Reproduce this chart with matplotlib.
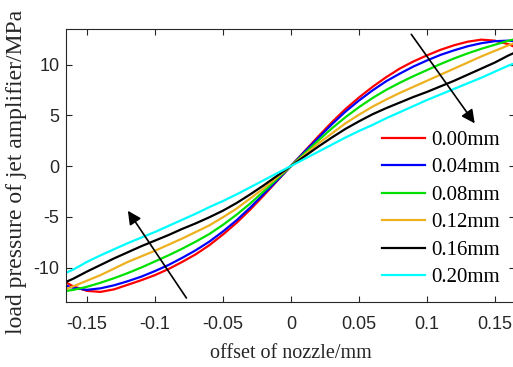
import numpy as np
import matplotlib
matplotlib.use("Agg")
import matplotlib.pyplot as plt

# offset of nozzle (mm)
offset = [-0.165, -0.16, -0.15, -0.14, -0.13, -0.12, -0.11, -0.10, -0.09, -0.08,
          -0.07, -0.06, -0.05, -0.04, -0.03, -0.02, -0.01, 0.0,
          0.01, 0.02, 0.03, 0.04, 0.05, 0.06, 0.07, 0.08, 0.09, 0.10,
          0.11, 0.12, 0.13, 0.14, 0.15, 0.16, 0.165]

# load pressure (MPa) for each gap
p_000 = [-11.5, -11.85, -12.3, -12.4, -12.15, -11.7, -11.25, -10.75, -10.15, -9.45,
         -8.7, -7.8, -6.75, -5.6, -4.3, -2.9, -1.45, 0.0,
         1.45, 2.9, 4.3, 5.6, 6.75, 7.8, 8.75, 9.6, 10.3, 10.9,
         11.45, 11.9, 12.25, 12.45, 12.35, 12.0, 11.7]
p_004 = [-11.8, -12.0, -12.2, -12.05, -11.75, -11.35, -10.9, -10.35, -9.75, -9.05,
         -8.3, -7.45, -6.45, -5.35, -4.1, -2.75, -1.4, 0.0,
         1.4, 2.75, 4.1, 5.35, 6.45, 7.45, 8.35, 9.1, 9.8, 10.4,
         10.95, 11.4, 11.8, 12.1, 12.3, 12.35, 12.3]
p_008 = [-12.3, -12.2, -11.9, -11.5, -11.05, -10.55, -10.0, -9.4, -8.8, -8.15,
         -7.45, -6.7, -5.8, -4.8, -3.7, -2.5, -1.25, 0.0,
         1.25, 2.5, 3.7, 4.8, 5.8, 6.7, 7.5, 8.2, 8.85, 9.45,
         10.05, 10.6, 11.1, 11.55, 11.95, 12.35, 12.5]
p_012 = [-12.1, -11.85, -11.3, -10.75, -10.1, -9.45, -8.9, -8.35, -7.75, -7.15,
         -6.5, -5.85, -5.05, -4.2, -3.2, -2.2, -1.1, 0.0,
         1.1, 2.2, 3.2, 4.2, 5.05, 5.85, 6.55, 7.2, 7.8, 8.4,
         9.0, 9.6, 10.2, 10.8, 11.35, 11.9, 12.15]
p_016 = [-11.4, -11.1, -10.4, -9.75, -9.1, -8.5, -7.9, -7.35, -6.8, -6.2,
         -5.65, -5.05, -4.4, -3.65, -2.8, -1.9, -0.95, 0.0,
         0.95, 1.9, 2.8, 3.65, 4.4, 5.1, 5.7, 6.25, 6.8, 7.3,
         7.85, 8.4, 9.0, 9.6, 10.2, 10.9, 11.2]
p_020 = [-10.5, -10.2, -9.45, -8.8, -8.2, -7.6, -7.05, -6.5, -5.9, -5.3,
         -4.7, -4.05, -3.45, -2.8, -2.1, -1.4, -0.7, 0.0,
         0.7, 1.4, 2.1, 2.8, 3.45, 4.05, 4.7, 5.3, 5.9, 6.5,
         7.05, 7.6, 8.15, 8.7, 9.3, 9.9, 10.15]

labels = ["0.00mm", "0.04mm", "0.08mm", "0.12mm", "0.16mm", "0.20mm"]
series = [p_000, p_004, p_008, p_012, p_016, p_020]
colors = ["#ff0000", "#0000ff", "#00e000", "#edb120", "#000000", "#00ffff"]

xticks = [-0.15, -0.1, -0.05, 0, 0.05, 0.1, 0.15]
xticklabels = ["-0.15", "-0.1", "-0.05", "0", "0.05", "0.1", "0.15"]
yticks = [-10, -5, 0, 5, 10]

plt.rcParams["axes.unicode_minus"] = False
serif = ["Liberation Serif", "DejaVu Serif"]
sans = ["Liberation Sans", "DejaVu Sans"]

fig = plt.figure(figsize=(5.13, 3.67), dpi=100)
ax = fig.add_axes([0.1296, 0.177, 0.875, 0.744])

for y, c, lab in zip(series, colors, labels):
    ax.plot(offset, y, color=c, lw=1.6, label=lab)

ax.set_xlim(-0.165, 0.165)
ax.set_ylim(-13.4, 13.5)
ax.set_xticks(xticks)
ax.set_xticklabels(xticklabels)
ax.set_yticks(yticks)
ax.tick_params(direction="in", top=True, right=True, length=4, width=0.8,
               colors="#262626", labelsize=13)
ax.tick_params(axis="x", pad=10)
ax.tick_params(axis="y", pad=5)
for t in ax.get_xticklabels() + ax.get_yticklabels():
    t.set_fontfamily(sans)
for s in ax.spines.values():
    s.set_color("#262626")
    s.set_linewidth(0.8)

ax.set_xlabel("offset of nozzle/mm", fontsize=14.5, family=serif, color="#262626")
ax.xaxis.set_label_coords(0.5, -0.155)
# y label placed on the figure so it sits at the far left edge
fig.text(17 / 513, 1 - 172 / 367, "load pressure of jet amplifier/MPa",
         rotation=90, ha="center", va="center", fontsize=17, family=serif,
         color="#262626")

# arrows showing growing gap
ax.annotate("", xy=(0.1363, 3.98), xytext=(0.0873, 13.2),
            arrowprops=dict(arrowstyle="-|>", color="k", lw=1.2, mutation_scale=20))
ax.annotate("", xy=(-0.121, -4.18), xytext=(-0.0757, -13.23),
            arrowprops=dict(arrowstyle="-|>", color="k", lw=1.2, mutation_scale=20))

ax.legend(loc="center left", bbox_to_anchor=(0.702, 0.341), frameon=False,
          prop={"family": serif, "size": 15}, handlelength=2.1,
          handletextpad=0.26, labelspacing=0.38, borderpad=0, borderaxespad=0)

fig.savefig("out.png", dpi=100)
